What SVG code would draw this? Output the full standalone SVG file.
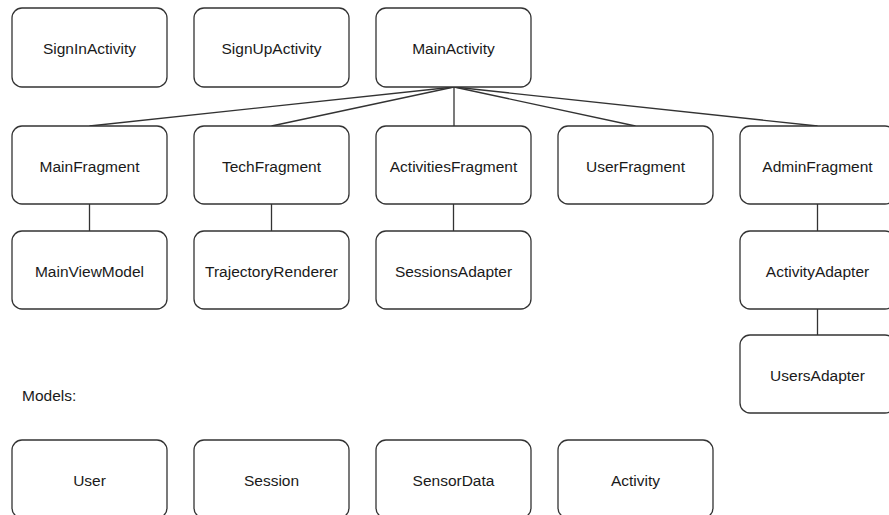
<svg xmlns="http://www.w3.org/2000/svg" width="889" height="515" viewBox="0 0 889 515">
  <style>
    .box { fill: #ffffff; stroke: #333333; stroke-width: 1.3; }
    .lbl { font-family: "Liberation Sans", Arial, sans-serif; font-size: 15.5px; fill: #1a1a1a; text-anchor: middle; dominant-baseline: central; }
    .note { font-family: "Liberation Sans", Arial, sans-serif; font-size: 15.5px; fill: #1a1a1a; dominant-baseline: central; }
    .edge { fill: none; stroke: #333333; stroke-width: 1.3; }
  </style>
  <rect width="889" height="515" fill="#ffffff"/>

  <!-- connectors -->
  <g id="connectors">
    <line class="edge" x1="454" y1="87" x2="89.5" y2="126"/>
    <line class="edge" x1="454" y1="87" x2="271.5" y2="126"/>
    <line class="edge" x1="454" y1="87" x2="454" y2="126"/>
    <line class="edge" x1="454" y1="87" x2="635.5" y2="126"/>
    <line class="edge" x1="454" y1="87" x2="817.5" y2="126"/>
    <line class="edge" x1="89.5" y1="204" x2="89.5" y2="231"/>
    <line class="edge" x1="271.5" y1="204" x2="271.5" y2="231"/>
    <line class="edge" x1="453.5" y1="204" x2="453.5" y2="231"/>
    <line class="edge" x1="817.5" y1="204" x2="817.5" y2="231"/>
    <line class="edge" x1="817.5" y1="309" x2="817.5" y2="335"/>
  </g>

  <!-- activities -->
  <g id="SignInActivity"><rect class="box" x="12" y="8" width="155" height="79" rx="10"/><text class="lbl" x="89.5" y="48">SignInActivity</text></g>
  <g id="SignUpActivity"><rect class="box" x="194" y="8" width="155" height="79" rx="10"/><text class="lbl" x="271.5" y="48">SignUpActivity</text></g>
  <g id="MainActivity"><rect class="box" x="376" y="8" width="155" height="79" rx="10"/><text class="lbl" x="453.5" y="48">MainActivity</text></g>

  <!-- fragments -->
  <g id="MainFragment"><rect class="box" x="12" y="126" width="155" height="78" rx="10"/><text class="lbl" x="89.5" y="166">MainFragment</text></g>
  <g id="TechFragment"><rect class="box" x="194" y="126" width="155" height="78" rx="10"/><text class="lbl" x="271.5" y="166">TechFragment</text></g>
  <g id="ActivitiesFragment"><rect class="box" x="376" y="126" width="155" height="78" rx="10"/><text class="lbl" x="453.5" y="166">ActivitiesFragment</text></g>
  <g id="UserFragment"><rect class="box" x="558" y="126" width="155" height="78" rx="10"/><text class="lbl" x="635.5" y="166">UserFragment</text></g>
  <g id="AdminFragment"><rect class="box" x="740" y="126" width="155" height="78" rx="10"/><text class="lbl" x="817.5" y="166">AdminFragment</text></g>

  <!-- helpers -->
  <g id="MainViewModel"><rect class="box" x="12" y="231" width="155" height="78" rx="10"/><text class="lbl" x="89.5" y="271">MainViewModel</text></g>
  <g id="TrajectoryRenderer"><rect class="box" x="194" y="231" width="155" height="78" rx="10"/><text class="lbl" x="271.5" y="271">TrajectoryRenderer</text></g>
  <g id="SessionsAdapter"><rect class="box" x="376" y="231" width="155" height="78" rx="10"/><text class="lbl" x="453.5" y="271">SessionsAdapter</text></g>
  <g id="ActivityAdapter"><rect class="box" x="740" y="231" width="155" height="78" rx="10"/><text class="lbl" x="817.5" y="271">ActivityAdapter</text></g>
  <g id="UsersAdapter"><rect class="box" x="740" y="335" width="155" height="78" rx="10"/><text class="lbl" x="817.5" y="375">UsersAdapter</text></g>

  <!-- models -->
  <text class="note" x="22" y="395">Models:</text>
  <g id="User"><rect class="box" x="12" y="440" width="155" height="78" rx="10"/><text class="lbl" x="89.5" y="480">User</text></g>
  <g id="Session"><rect class="box" x="194" y="440" width="155" height="78" rx="10"/><text class="lbl" x="271.5" y="480">Session</text></g>
  <g id="SensorData"><rect class="box" x="376" y="440" width="155" height="78" rx="10"/><text class="lbl" x="453.5" y="480">SensorData</text></g>
  <g id="Activity"><rect class="box" x="558" y="440" width="155" height="78" rx="10"/><text class="lbl" x="635.5" y="480">Activity</text></g>
</svg>
